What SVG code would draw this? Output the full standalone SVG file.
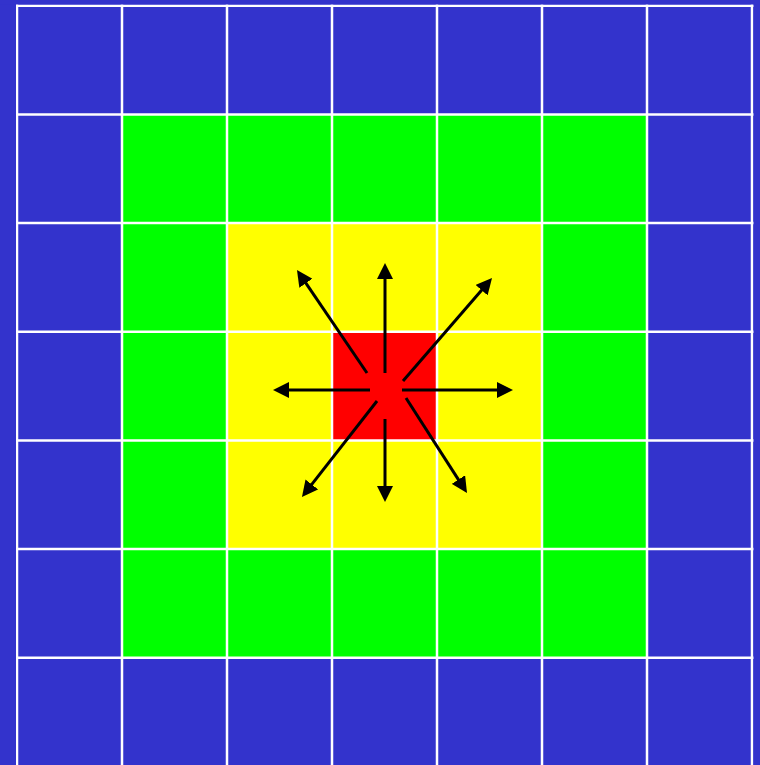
<svg xmlns="http://www.w3.org/2000/svg" width="760" height="765" viewBox="0 0 760 765">
  <style>
    .grid line { stroke: #ffffff; stroke-width: 2.5; }
    .arrows line { stroke: #000000; stroke-width: 3; marker-end: url(#head); }
  </style>
  <defs>
    <marker id="head" markerUnits="userSpaceOnUse" viewBox="0 -8 16 16" refX="1" refY="0" markerWidth="16" markerHeight="16" orient="auto">
      <path d="M0,-8 L16,0 L0,8 z" fill="#000000"/>
    </marker>
  </defs>
  <rect id="background" x="0" y="0" width="760" height="765" fill="#3333cc"/>
  <g id="ring-green"><rect x="122" y="114.4" width="525" height="543.3" fill="#00ff00"/></g>
  <g id="ring-yellow"><rect x="227" y="223" width="315" height="326" fill="#ffff00"/></g>
  <g id="center-red"><rect x="332" y="331.7" width="105" height="108.7" fill="#ff0000"/></g>
  <g class="grid" id="grid">
    <line x1="17" y1="0" x2="17" y2="765"/>
    <line x1="122" y1="0" x2="122" y2="765"/>
    <line x1="227" y1="0" x2="227" y2="765"/>
    <line x1="332" y1="0" x2="332" y2="765"/>
    <line x1="437" y1="0" x2="437" y2="765"/>
    <line x1="542" y1="0" x2="542" y2="765"/>
    <line x1="647" y1="0" x2="647" y2="765"/>
    <line x1="752" y1="0" x2="752" y2="765"/>
    <line x1="0" y1="5.7" x2="760" y2="5.7"/>
    <line x1="0" y1="114.4" x2="760" y2="114.4"/>
    <line x1="0" y1="223" x2="760" y2="223"/>
    <line x1="0" y1="331.7" x2="760" y2="331.7"/>
    <line x1="0" y1="440.4" x2="760" y2="440.4"/>
    <line x1="0" y1="549" x2="760" y2="549"/>
    <line x1="0" y1="657.7" x2="760" y2="657.7"/>
  </g>
  <rect x="0" y="0" width="16" height="765" fill="#3333cc"/>
  <rect x="753.5" y="0" width="7" height="765" fill="#3333cc"/>
  <rect x="0" y="0" width="760" height="4.5" fill="#3333cc"/>
  <g class="arrows" id="connectors">
    <line x1="385" y1="373" x2="385" y2="278"/>
    <line x1="385" y1="419" x2="385" y2="487"/>
    <line x1="370" y1="390" x2="288" y2="390"/>
    <line x1="402" y1="390" x2="498" y2="390"/>
    <line x1="367" y1="373" x2="305.4" y2="282.4"/>
    <line x1="403" y1="381" x2="482.2" y2="289.4"/>
    <line x1="377" y1="401" x2="311.2" y2="485.2"/>
    <line x1="406" y1="398" x2="458.9" y2="480.4"/>
  </g>
</svg>
